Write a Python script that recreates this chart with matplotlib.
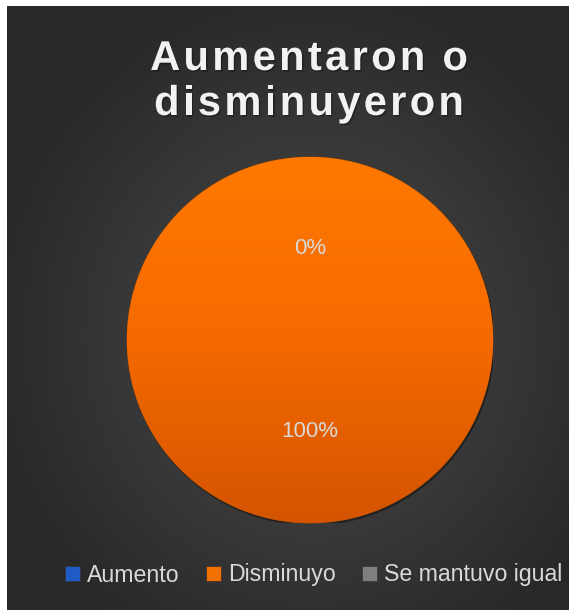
import numpy as np
import matplotlib
matplotlib.use("Agg")
import matplotlib.pyplot as plt
import matplotlib.patheffects as pe
from matplotlib.colors import LinearSegmentedColormap

categorias = ["Aumento", "Disminuyo", "Se mantuvo igual"]
valores = [0, 100, 0]
colores = ["#1f5bc4", "#f07000", "#7f7f7f"]
titulo = ["Aumentaron o", "disminuyeron"]

W, H = 569, 610
fig = plt.figure(figsize=(W / 100, H / 100), dpi=100, facecolor="white")

# fondo oscuro con degradado radial
bg = fig.add_axes([7 / W, 0, (W - 7) / W, (H - 6) / H])
bg.axis("off")
yy, xx = np.mgrid[0:604, 0:562]
d = np.sqrt(((xx - 303) / 330) ** 2 + ((yy - 330) / 360) ** 2)
d = np.clip(d, 0, 1)
c0, c1 = np.array([0x4b, 0x4b, 0x4b]) / 255, np.array([0x28, 0x28, 0x28]) / 255
img = c0 * (1 - d[..., None]) + c1 * d[..., None]
bg.imshow(img, aspect="auto", extent=[0, 1, 0, 1], origin="upper")
bg.set_xlim(0, 1)
bg.set_ylim(0, 1)

# titulo con espaciado entre letras
fig.canvas.draw()
rend = fig.canvas.get_renderer()


def texto_espaciado(s, cx, y, esp, **kw):
    trozos = []
    for ch in s:
        t = fig.text(0, y, ch, **kw)
        w = t.get_window_extent(rend).width if ch != " " else kw["fontsize"] * 0.35
        trozos.append((t, w))
    total = sum(w for _, w in trozos) + esp * (len(trozos) - 1)
    x = cx * W - total / 2
    for t, w in trozos:
        t.set_x(x / W)
        x += w + esp


estilo = dict(fontsize=30, fontweight="bold", color="#f2f2f2", family="Liberation Sans",
              va="baseline", ha="left",
              path_effects=[pe.withSimplePatchShadow(offset=(1, -1.2), shadow_rgbFace="black", alpha=0.3)])
texto_espaciado(titulo[0], 309 / W, 1 - 70 / H, 3.3, **estilo)
texto_espaciado(titulo[1], 309 / W, 1 - 115 / H, 3.3, **estilo)

# pastel
cx, cy, r = 310, 340, 183
ax = fig.add_axes([(cx - r) / W, (H - cy - r) / H, 2 * r / W, 2 * r / H])
ax.axis("off")

sombra = plt.Circle((0.006, -0.01), 1.0, color="black", alpha=0.3, zorder=0)
ax.add_patch(sombra)

wedges, textos, autotextos = ax.pie(
    valores, colors=colores, startangle=90, counterclock=False,
    autopct="%1.0f%%", pctdistance=0.5,
    wedgeprops=dict(edgecolor="#a84a00", linewidth=0.6),
    textprops=dict(color="#d9d9d9", fontsize=16, family="Liberation Sans"))

# degradado naranja dentro de cada cuña con valor
grad = LinearSegmentedColormap.from_list("g", ["#d45400", "#f56a00", "#ff7900"])
gy = np.linspace(0, 1, 256)[:, None] * np.ones((1, 2))
for w, v in zip(wedges, valores):
    if v > 0:
        im = ax.imshow(gy, cmap=grad, extent=[-1, 1, -1, 1], origin="lower",
                       aspect="auto", zorder=w.get_zorder() + 0.1)
        im.set_clip_path(w)

vistos = []
for t in autotextos:
    pos = tuple(np.round(t.get_position(), 3))
    if pos in vistos:
        t.set_visible(False)
    vistos.append(pos)
    t.set_zorder(5)

ax.set_xlim(-1.0, 1.0)
ax.set_ylim(-1.0, 1.0)

leg = fig.legend(wedges, categorias, loc="center", bbox_to_anchor=(313.5 / W, 1 - 575 / H),
                 ncol=3, frameon=False, handlelength=0.64, handleheight=0.64,
                 handletextpad=0.3, columnspacing=1.15,
                 prop=dict(family="Liberation Sans", size=16.7))
for t in leg.get_texts():
    t.set_color("#d9d9d9")
for h in leg.legend_handles:
    h.set_edgecolor("#333333")
    h.set_linewidth(0.5)

fig.savefig("out.png", dpi=100, facecolor="white")
